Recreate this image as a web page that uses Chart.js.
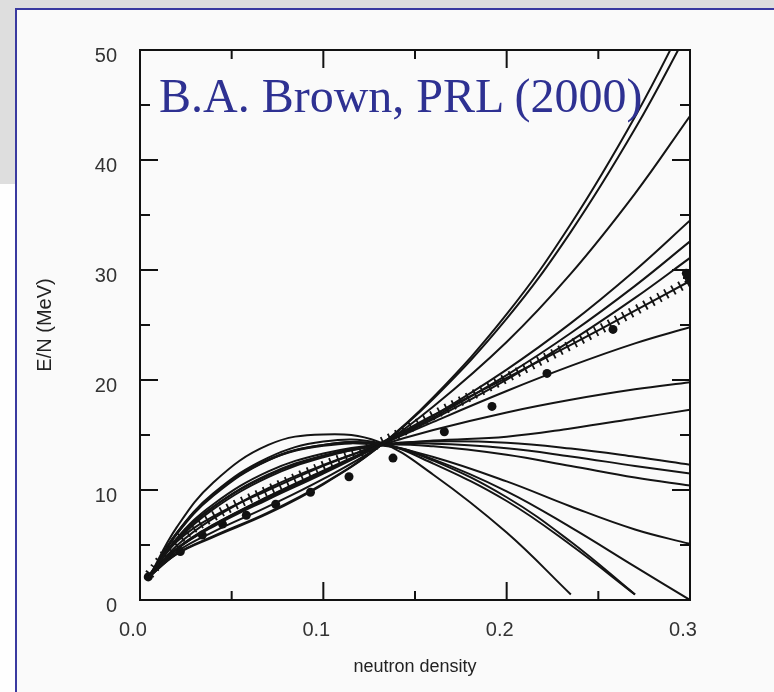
<!DOCTYPE html>
<html>
<head>
<meta charset="utf-8">
<script src="https://cdn.jsdelivr.net/npm/chart.js@4.4.0/dist/chart.umd.min.js"></script>
<style>
  html, body { margin: 0; padding: 0; }
  body { width: 774px; height: 692px; position: relative; overflow: hidden; background: #fefefe; }
  #greyTop { position: absolute; left: 0; top: 0; width: 774px; height: 8px; background: #dedede; }
  #greyLeft { position: absolute; left: 0; top: 0; width: 15px; height: 184px; background: #dedede; }
  #frame { position: absolute; left: 15px; top: 8px; width: 800px; height: 720px; border: 2px solid #3a3aa0; background: #fafafa; }
  #chart { position: absolute; left: 0; top: 0; }
  #cite { position: absolute; left: 159px; top: 72px; font: 48px/48px "Liberation Serif", "Times New Roman", serif; color: #2e3192; white-space: nowrap; }
</style>
</head>
<body>
<div id="greyTop"></div>
<div id="greyLeft"></div>
<div id="frame"></div>
<canvas id="chart" width="774" height="692"></canvas>
<div id="cite">B.A. Brown, PRL (2000)</div>
<script>
// neutron density grid shared by all the model curves
const density = [0.005, 0.02, 0.04, 0.07, 0.10, 0.13, 0.16, 0.20, 0.235, 0.27, 0.30];

// E/N (MeV) for each Skyrme curve (null = curve stops)
const stiff1 = [2.1, 4.17, 5.73, 7.87, 10.52, 13.9, 18.43, 25.98, 34.18, 43.93, 53.5];
const stiff2 = [2.1, 4.20, 5.80, 7.97, 10.59, 13.9, 18.30, 25.58, 33.47, 42.83, 52.0];
const stiff3 = [2.1, 4.39, 6.20, 8.51, 11.01, 13.9, 17.59, 23.46, 29.67, 36.95, 44.0];
const mid1   = [2.1, 4.60, 6.68, 9.16, 11.50, 14.0, 16.75, 20.95, 25.17, 29.96, 34.5];
const mid2   = [2.1, 4.65, 6.78, 9.29, 11.60, 14.0, 16.58, 20.44, 24.27, 28.56, 32.6];
const mid3   = [2.1, 4.68, 6.85, 9.39, 11.68, 14.0, 16.45, 20.04, 23.55, 27.46, 31.1];
const mid4   = [2.1, 4.61, 6.80, 9.41, 11.75, 14.0, 16.19, 19.00, 21.28, 23.33, 24.8];
const mid5   = [2.1, 4.94, 7.42, 10.16, 12.27, 14.0, 15.45, 17.05, 18.20, 19.15, 19.8];
const mid6   = [2.1, 5.52, 8.47, 11.34, 13.04, 14.0, 14.49, 14.85, 15.60, 16.50, 17.3];
const flat1  = [2.1, 5.36, 8.26, 11.17, 12.97, 14.1, 14.42, 14.30, 13.77, 13.02, 12.3];
const flat2  = [2.1, 5.48, 8.47, 11.41, 13.14, 14.1, 14.21, 13.80, 13.05, 12.19, 11.5];
const flat3  = [2.1, 5.61, 8.71, 11.69, 13.32, 14.1, 13.97, 13.20, 12.18, 11.13, 10.4];
const soft1  = [2.1, 6.08, 9.59, 12.72, 14.02, 14.1, 13.00, 10.78, 8.50, 6.41, 5.1];
const soft2  = [2.1, 6.04, 9.57, 12.77, 14.10, 14.2, 12.78, 9.88, 6.60, 3.03, 0.0];
const soft3  = [2.1, 5.96, 9.47, 12.70, 14.09, 14.2, 12.67, 9.34, 5.29, 0.5, null];
const soft4  = [2.1, 6.10, 9.70, 12.95, 14.40, 14.3, 12.40, 9.00, 5.00, 0.5, null];
const soft5  = [2.1, 6.60, 10.69, 14.10, 15.05, 14.4, 11.39, 6.13, 0.5, null, null];

// hatched reference curve (variational calculation)
const hatched = [2.3, 5.3, 7.6, 10.0, 12.2, 14.2, 16.8, 20.2, 23.2, 26.3, 29.0];

// filled dots
const dotDensity = [0.0045, 0.022, 0.034, 0.045, 0.058, 0.074, 0.093, 0.114, 0.138, 0.166, 0.192, 0.222, 0.258, 0.298];
const dotEnergy  = [2.1, 4.4, 5.9, 6.9, 7.7, 8.7, 9.8, 11.2, 12.9, 15.3, 17.6, 20.6, 24.6, 29.7];

// star at the end of the hatched curve
const starDensity = [0.3];
const starEnergy = [29.3];

// axis tick marks
const xMajorTicks = [0.1, 0.2];
const xMinorTicks = [0.05, 0.15, 0.25];
const yMajorTicks = [10, 20, 30, 40];
const yMinorTicks = [5, 15, 25, 35, 45];

const curves = [stiff1, stiff2, stiff3, mid1, mid2, mid3, mid4, mid5, mid6,
                flat1, flat2, flat3, soft1, soft2, soft3, soft4, soft5];

function toPoints(xs, ys) {
  const pts = [];
  ys.forEach((v, i) => { if (v !== null) pts.push({ x: xs[i], y: v }); });
  return pts;
}

const datasets = curves.map(c => ({
  data: toPoints(density, c),
  borderColor: '#141414',
  borderWidth: 2,
  pointRadius: 0,
  tension: 0.4,
  fill: false
}));

datasets.push({
  data: toPoints(density, hatched),
  borderColor: '#141414',
  borderWidth: 2,
  pointRadius: 0,
  tension: 0.4
});
datasets.push({
  data: toPoints(density, hatched),
  borderColor: '#141414',
  borderWidth: 10,
  borderDash: [1.8, 6.2],
  borderCapStyle: 'butt',
  pointRadius: 0,
  tension: 0.4
});
datasets.push({
  data: toPoints(dotDensity, dotEnergy),
  showLine: false,
  pointRadius: 4.5,
  pointBackgroundColor: '#111',
  pointBorderWidth: 0
});
datasets.push({
  data: toPoints(starDensity, starEnergy),
  showLine: false,
  pointStyle: 'star',
  pointRadius: 7,
  pointBorderColor: '#111',
  pointBorderWidth: 2.5
});

const boxTicks = {
  id: 'boxTicks',
  afterDatasetsDraw(chart) {
    const { ctx, chartArea: a, scales: { x, y } } = chart;
    ctx.save();
    ctx.strokeStyle = '#111';
    ctx.lineWidth = 2;
    ctx.strokeRect(a.left, a.top, a.right - a.left, a.bottom - a.top);
    const seg = (x1, y1, x2, y2) => { ctx.beginPath(); ctx.moveTo(x1, y1); ctx.lineTo(x2, y2); ctx.stroke(); };
    const xt = (list, len) => list.forEach(v => {
      const p = x.getPixelForValue(v);
      seg(p, a.bottom, p, a.bottom - len);
      seg(p, a.top, p, a.top + len);
    });
    const yt = (list, len) => list.forEach(v => {
      const p = y.getPixelForValue(v);
      seg(a.left, p, a.left + len, p);
      seg(a.right, p, a.right - len, p);
    });
    xt(xMajorTicks, 18); xt(xMinorTicks, 9);
    yt(yMajorTicks, 18); yt(yMinorTicks, 10);
    ctx.restore();
  }
};

Chart.defaults.font.family = '"Liberation Sans", Arial, sans-serif';

new Chart(document.getElementById('chart'), {
  type: 'line',
  data: { datasets },
  options: {
    responsive: false,
    animation: false,
    devicePixelRatio: 1,
    layout: { padding: { left: 0, right: 84, top: 50, bottom: 0 } },
    plugins: { legend: { display: false }, tooltip: { enabled: false } },
    scales: {
      x: {
        type: 'linear', min: 0, max: 0.3,
        grid: { display: false, drawTicks: false },
        border: { display: false },
        ticks: { stepSize: 0.1, padding: 18, labelOffset: -7, color: '#333', font: { size: 20 }, maxRotation: 0,
                 callback: v => v.toFixed(1) },
        title: { display: true, text: 'neutron density', color: '#222', font: { size: 18 }, padding: { top: 0, bottom: 14 } },
        afterFit: s => { s.height = 92; }
      },
      y: {
        type: 'linear', min: 0, max: 50,
        grid: { display: false, drawTicks: false },
        border: { display: false },
        ticks: { stepSize: 10, padding: 23, labelOffset: 6, color: '#333', font: { size: 20 } },
        title: { display: true, text: 'E/N (MeV)', color: '#222', font: { size: 20 }, padding: { top: 33, bottom: 0 } },
        afterFit: s => { s.width = 140; }
      }
    }
  },
  plugins: [boxTicks]
});
</script>
</body>
</html>
